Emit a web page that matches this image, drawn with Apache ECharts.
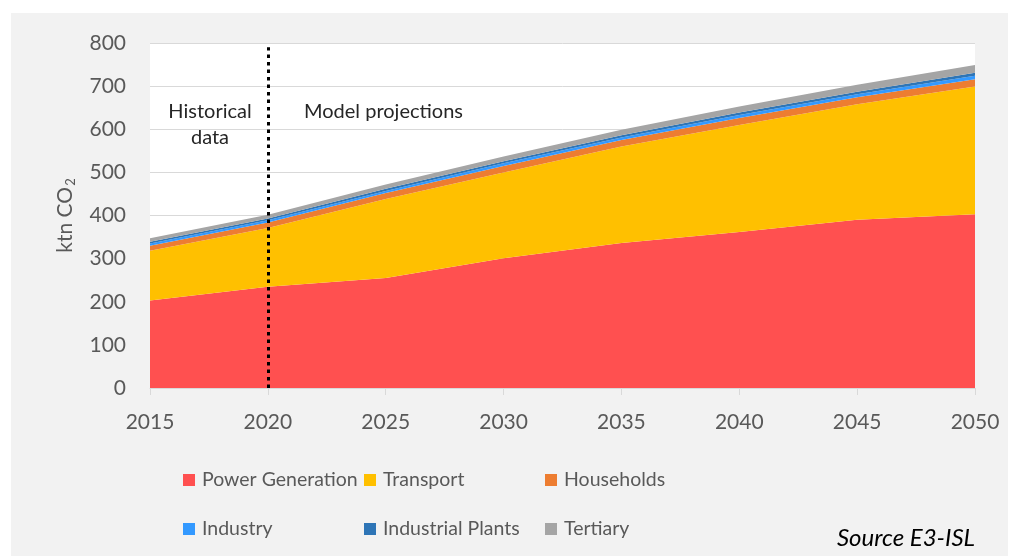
<!DOCTYPE html>
<html>
<head>
<meta charset="utf-8">
<script src="https://cdn.jsdelivr.net/npm/echarts@6/dist/echarts.min.js"></script>
<style>
  html, body { margin: 0; padding: 0; background: #ffffff; }
  #chart { position: absolute; left: 11px; top: 13px; width: 997px; height: 543px; }
</style>
</head>
<body>
<div id="chart"></div>
<script>
// Emissions by sector, ktn CO2
const years = ['2015', '2020', '2025', '2030', '2035', '2040', '2045', '2050'];
const powerGeneration   = [203, 235, 255, 301, 336, 362, 390, 403];
const transport         = [115, 136, 183, 199, 224, 248, 268, 296];
const households        = [12, 13, 14, 15, 15, 16, 16, 17];
const industry          = [5, 5, 5, 6, 6, 7, 7, 8];
const industrialPlants  = [4, 4, 5, 5, 5, 6, 6, 7];
const tertiary          = [8, 9, 10, 11, 13, 14, 16, 18];
const yTicks = { min: 0, max: 800, step: 100 };
const dividerYear = '2020';
const dividerSpan = [0, 790];

const font = 'Lato, "Open Sans", sans-serif';
const grey = '#595959';

const sectors = [
  { name: 'Power Generation',  data: powerGeneration,  color: '#FF5050' },
  { name: 'Transport',         data: transport,        color: '#FFC000' },
  { name: 'Households',        data: households,       color: '#ED7D31' },
  { name: 'Industry',          data: industry,         color: '#3399FF' },
  { name: 'Industrial Plants', data: industrialPlants, color: '#2E75B6' },
  { name: 'Tertiary',          data: tertiary,         color: '#A5A5A5' }
];

const series = sectors.map((s) => ({
  name: s.name,
  type: 'line',
  stack: 'total',
  data: s.data,
  symbol: 'none',
  lineStyle: { width: 0 },
  areaStyle: { color: s.color, opacity: 1 },
  itemStyle: { color: s.color },
  emphasis: { disabled: true },
  z: 2
}));

// dotted divider between historical data and projections
series.push({
  type: 'line',
  data: [],
  markLine: {
    silent: true,
    symbol: 'none',
    label: { show: false },
    lineStyle: { color: '#000', width: 3, type: [3.5, 4] },
    data: [[
      { coord: [dividerYear, dividerSpan[0]] },
      { coord: [dividerYear, dividerSpan[1]] }
    ]]
  },
  z: 5
});

// legend laid out in a 3 x 2 table
const legendPos = [
  [172, 457], [353, 457], [534, 457],
  [172, 506], [353, 506], [534, 506]
];
const legends = sectors.map((s, i) => ({
  data: [s.name],
  left: legendPos[i][0],
  top: legendPos[i][1],
  padding: 0,
  icon: 'rect',
  itemWidth: 12,
  itemHeight: 12,
  selectedMode: false,
  textStyle: { fontFamily: font, fontSize: 19.5, color: grey, padding: [0, 0, 0, 2] }
}));

const chart = echarts.init(document.getElementById('chart'));
chart.setOption({
  backgroundColor: '#F2F2F2',
  animation: false,
  grid: {
    left: 139, top: 30, right: 33, bottom: 168,
    show: true, backgroundColor: '#ffffff', borderWidth: 0
  },
  legend: legends,
  xAxis: {
    type: 'category',
    data: years,
    boundaryGap: false,
    axisLine: { lineStyle: { color: '#D9D9D9', width: 1 } },
    axisTick: { show: true, length: 7, lineStyle: { color: '#D9D9D9' } },
    axisLabel: { fontFamily: font, fontSize: 21, color: grey, margin: 24 },
    splitLine: { show: false }
  },
  yAxis: {
    type: 'value',
    min: yTicks.min, max: yTicks.max, interval: yTicks.step,
    name: '{a|ktn CO}{b|2}',
    nameLocation: 'middle',
    nameRotate: 90,
    nameGap: 72,
    nameTextStyle: {
      rich: {
        a: { fontFamily: font, fontSize: 21, color: grey, lineHeight: 26 },
        b: { fontFamily: font, fontSize: 13, color: grey, lineHeight: 26, padding: [12, 0, 0, 1] }
      }
    },
    axisLine: { show: false },
    axisTick: { show: false },
    axisLabel: { fontFamily: font, fontSize: 21, color: grey, margin: 24 },
    splitLine: { lineStyle: { color: '#D9D9D9', width: 1 } }
  },
  graphic: [
    { type: 'text', x: 199, y: 86, style: { text: 'Historical\ndata', font: '20px ' + font, fill: '#262626', lineHeight: 26, align: 'center' } },
    { type: 'text', x: 293, y: 89, style: { text: 'Model projections', font: '20px ' + font, fill: '#262626' } },
    { type: 'text', right: 33, top: 513, style: { text: 'Source E3-ISL', font: 'italic 24px ' + font, fill: '#000000' } }
  ],
  series: series
});
</script>
</body>
</html>
